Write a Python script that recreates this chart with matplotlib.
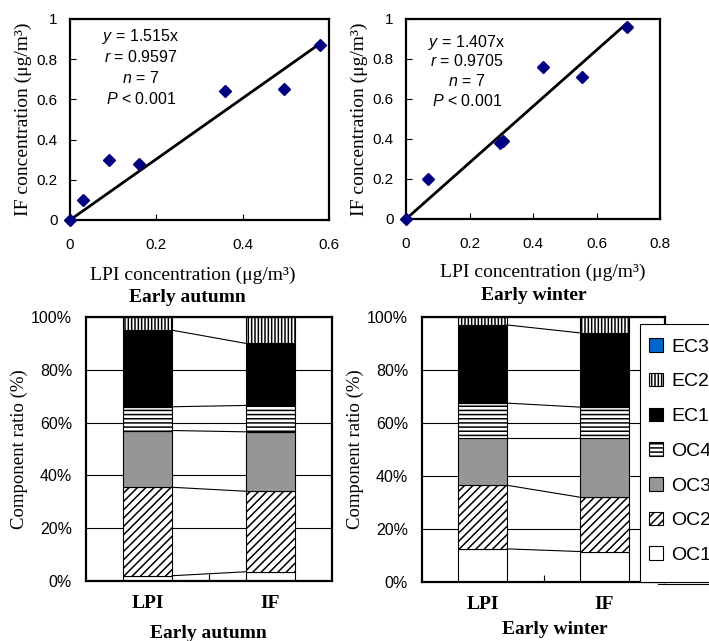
import matplotlib
matplotlib.use("Agg")
import matplotlib.pyplot as plt
from matplotlib.patches import Patch, Rectangle
from matplotlib.lines import Line2D
import numpy as np

plt.rcParams['font.family'] = ['Liberation Sans', 'DejaVu Sans']
plt.rcParams['mathtext.fontset'] = 'custom'
plt.rcParams['mathtext.rm'] = 'Liberation Sans'
plt.rcParams['mathtext.it'] = 'Liberation Sans:italic'
plt.rcParams['hatch.linewidth'] = 1.1

# scatter data, LPI vs IF concentration (ug/m3)
autumn_lpi = [0.0, 0.03, 0.09, 0.16, 0.36, 0.495, 0.58]
autumn_if = [0.0, 0.10, 0.30, 0.28, 0.64, 0.65, 0.87]
winter_lpi = [0.0, 0.07, 0.295, 0.305, 0.43, 0.555, 0.695]
winter_if = [0.0, 0.20, 0.38, 0.39, 0.76, 0.71, 0.96]
autumn_slope = 1.515
winter_slope = 1.407
autumn_stats = ['$y$ = 1.515x', '$r$ = 0.9597', '$n$ = 7', '$P$ < 0.001']
winter_stats = ['$y$ = 1.407x', '$r$ = 0.9705', '$n$ = 7', '$P$ < 0.001']

# component ratios (%) for LPI and IF, bottom to top
components = ['OC1', 'OC2', 'OC3', 'OC4', 'EC1', 'EC2', 'EC3']
autumn_ratio = {
    'LPI': [2.0, 33.5, 21.5, 9.0, 29.0, 5.0, 0.0],
    'IF': [3.5, 30.5, 22.5, 10.0, 23.5, 10.0, 0.0],
}
winter_ratio = {
    'LPI': [12.5, 24.0, 18.0, 13.0, 29.5, 3.0, 0.0],
    'IF': [11.5, 20.5, 22.5, 11.5, 28.0, 6.0, 0.0],
}
groups = ['LPI', 'IF']

styles = {
    'OC1': dict(facecolor='white', hatch=None),
    'OC2': dict(facecolor='white', hatch='////'),
    'OC3': dict(facecolor='#969696', hatch=None),
    'OC4': dict(facecolor='white', hatch='----'),
    'EC1': dict(facecolor='black', hatch=None),
    'EC2': dict(facecolor='white', hatch='|||||'),
    'EC3': dict(facecolor='#0066CC', hatch=None),
}

W, H = 709, 641
fig = plt.figure(figsize=(W / 100, H / 100), dpi=100)


def px_axes(l, t, r, b):
    return fig.add_axes([l / W, 1 - b / H, (r - l) / W, (b - t) / H])


serif = ['Liberation Serif', 'DejaVu Serif']


def scatter_panel(ax, xs, ys, slope, xmax, stats, sx, sy, dy, title, tx, ty, lx, ly):
    ax.plot(xs, ys, 'D', color='#000080', markersize=6, zorder=3, clip_on=False)
    xl = np.array([0, max(xs)])
    ax.plot(xl, slope * xl, color='black', lw=2, zorder=2)
    ax.set_xlim(0, xmax)
    ax.set_ylim(0, 1)
    ax.set_xticks(np.arange(0, xmax + 0.01, 0.2))
    ax.set_xticklabels(['0'] + ['%.1f' % v for v in np.arange(0.2, xmax + 0.01, 0.2)])
    ax.set_yticks(np.arange(0, 1.01, 0.2))
    ax.set_yticklabels(['0', '0.2', '0.4', '0.6', '0.8', '1'])
    ax.tick_params(direction='in', length=4, labelsize=11)
    ax.tick_params(axis='x', pad=13)
    ax.tick_params(axis='y', pad=9)
    for s in ax.spines.values():
        s.set_linewidth(1.6)
    ax.set_ylabel('IF concentration (μg/m³)', family=serif, fontsize=14, labelpad=3)
    for i, line in enumerate(stats):
        ax.text(sx, sy - i * dy, line, ha='center', va='center', fontsize=11.5,
                transform=ax.transData)
    fig.text(lx / W, 1 - ly / H, 'LPI concentration (μg/m³)', family=serif,
             fontsize=14, ha='center', va='center')
    fig.text(tx / W, 1 - ty / H, title, family=serif, fontsize=14,
             weight='bold', ha='center', va='center')


def bar_panel(ax, ratio, title, tx, ty):
    x = np.arange(len(groups))
    bottoms = np.zeros(len(groups))
    tops = []
    for k, comp in enumerate(components):
        vals = np.array([ratio[g][k] for g in groups])
        st = styles[comp]
        ax.bar(x, vals, width=0.4, bottom=bottoms, color=st['facecolor'],
               hatch=st['hatch'], edgecolor='black', linewidth=0.8, zorder=2)
        bottoms = bottoms + vals
        tops.append(bottoms.copy())
    # series lines joining segment tops
    for t in tops[:-2]:
        ax.plot([0.2, 0.8], t, color='black', lw=0.8, zorder=2)
    ax.set_xlim(-0.5, 1.5)
    ax.set_ylim(0, 100)
    ax.set_yticks(range(0, 101, 20))
    ax.set_yticklabels(['%d%%' % v for v in range(0, 101, 20)])
    ax.yaxis.grid(True, color='black', lw=0.8, zorder=0)
    ax.set_axisbelow(True)
    ax.tick_params(axis='y', length=0, labelsize=11.5, pad=10)
    ax.set_xticks([0.5])
    ax.set_xticklabels([])
    ax.tick_params(axis='x', which='major', direction='in', length=5, width=0.8)
    ax.set_xticks(x, minor=True)
    ax.set_xticklabels(groups, minor=True, family=serif, weight='bold', fontsize=14)
    ax.tick_params(axis='x', which='minor', length=0, pad=10)
    for s in ax.spines.values():
        s.set_linewidth(1.6)
    ax.set_ylabel('Component ratio (%)', family=serif, fontsize=13.5, labelpad=2)
    fig.text(tx / W, 1 - ty / H, title, family=serif, fontsize=14,
             weight='bold', ha='center', va='center')


ax1 = px_axes(70, 19, 329, 220)
scatter_panel(ax1, autumn_lpi, autumn_if, autumn_slope, 0.6, autumn_stats,
              0.164, 0.915, 0.104, 'Early autumn', 187, 298, 193, 275)
ax2 = px_axes(406, 19, 660, 219)
scatter_panel(ax2, winter_lpi, winter_if, winter_slope, 0.8, winter_stats,
              0.192, 0.885, 0.0975, 'Early winter', 534, 295, 543, 272)
ax3 = px_axes(86, 317, 332, 581)
bar_panel(ax3, autumn_ratio, 'Early autumn', 208, 633)
ax4 = px_axes(422, 317, 665, 582)
bar_panel(ax4, winter_ratio, 'Early winter', 555, 630)

# legend box (runs past the right edge, as in the original)
frame = Rectangle((640 / W, 1 - 582 / H), 100 / W, 258 / H, transform=fig.transFigure,
                  facecolor='white', edgecolor='black', linewidth=0.8, zorder=4)
fig.patches.append(frame)
fig.lines.append(Line2D([658 / W, 1], [1 - 584 / H] * 2, transform=fig.transFigure,
                        color='black', lw=0.8, zorder=4))

handles = [Patch(facecolor=styles[c]['facecolor'], hatch=styles[c]['hatch'],
                 edgecolor='black', linewidth=0.8) for c in components[::-1]]
leg = fig.legend(handles, components[::-1], loc='upper left',
                 bbox_to_anchor=(640 / W, 1 - 329 / H), fontsize=14,
                 frameon=False, borderpad=0.47, handlelength=0.7, handleheight=0.7,
                 handletextpad=0.45, labelspacing=0.88, borderaxespad=0)
leg.set_zorder(5)

fig.savefig('out.png', dpi=100)
